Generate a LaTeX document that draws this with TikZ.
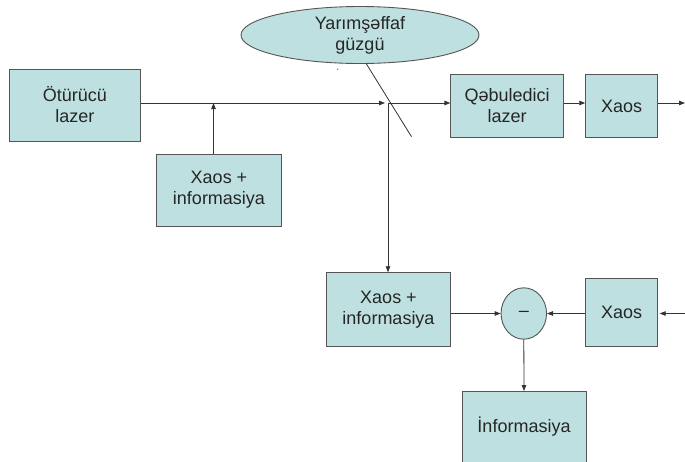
\documentclass[tikz,border=0pt]{standalone}
\usepackage{fontspec}
\setmainfont{Liberation Sans}
\usetikzlibrary{positioning}
\usetikzlibrary{shapes.geometric}
\usetikzlibrary{arrows.meta}
\definecolor{blockfill}{RGB}{190,224,224}
\definecolor{blockline}{RGB}{85,85,85}
\tikzset{
	block/.style={draw=blockline, fill=blockfill, line width=0.9pt, align=center, inner sep=0pt, text=black!85, font=\fontsize{18}{21}\selectfont},
	wire/.style={draw=black!80, line width=0.8pt},
	arr/.style={wire, -{Triangle[length=6pt,width=4.5pt]}}
}

\begin{document}
\begin{tikzpicture}[x=1pt,y=-1pt]
	\useasboundingbox (0,0) rectangle (685,461);

	% Transmitter side
	\node [block, minimum width=130.6pt, minimum height=72pt] at (74.9,105) (1Sender) {Ötürücü\\lazer};
	\node [block, minimum width=124.5pt, minimum height=72pt] at (219,190) (2ChaosInfo) {Xaos +\\informasiya};
	\coordinate (join) at (213.5,103);
	\coordinate (split) at (388,103);

	% Mirror
	\node [block, ellipse, minimum width=238pt, minimum height=57pt] at (360,35) (3Mirror) {Yarımşəffaf\\güzgü};
	\coordinate (3MirrorTop) at (366,63.3);
	\coordinate (3MirrorEnd) at (411.5,136.7);
	\fill [black!70] (337.7,69.3) circle (0.6pt);

	% Receiver side
	\node [block, minimum width=112.6pt, minimum height=62.3pt] at (507.1,105.9) (4Receiver) {Qəbuledici\\lazer};
	\node [block, minimum width=72pt, minimum height=62.3pt] at (621.7,105.9) (5Chaos) {Xaos};
	\coordinate (5Out) at (685,103);

	% Subtraction
	\node [block, minimum width=124.5pt, minimum height=73.3pt] at (388.5,309.4) (6ChaosInfo) {Xaos +\\informasiya};
	\node [block, ellipse, minimum width=45.5pt, minimum height=51.4pt] at (523.8,313.5) (7Minus) {\textendash};
	\node [block, minimum width=72pt, minimum height=67.7pt] at (621.7,312.2) (8Chaos) {Xaos};
	\coordinate (8In) at (685,313.5);
	\node [block, minimum width=124pt, minimum height=71pt] at (524,427) (9Info) {İnformasiya};

	% Connections
	\draw [arr, shorten >=3pt] (1Sender.east |- split) -- (split);
	\draw [arr] (join |- 2ChaosInfo.north) -- (join);
	\draw [wire] (3MirrorTop) -- (3MirrorEnd);
	\draw [arr] (split) -- (4Receiver.west |- split);
	\draw [arr] (4Receiver.east |- split) -- (5Chaos.west |- split);
	\draw [arr] (5Chaos.east |- split) -- (5Out);
	\draw [arr] (split) -- (split |- 6ChaosInfo.north);
	\draw [arr] (6ChaosInfo.east |- 7Minus) -- (7Minus.west);
	\draw [arr] (8Chaos.west |- 7Minus) -- (7Minus.east);
	\draw [arr, shorten >=1.5pt] (8In) -- (8Chaos.east |- 7Minus);
	\draw [arr] (7Minus.south) -- (9Info.north);

\end{tikzpicture}
\end{document}
